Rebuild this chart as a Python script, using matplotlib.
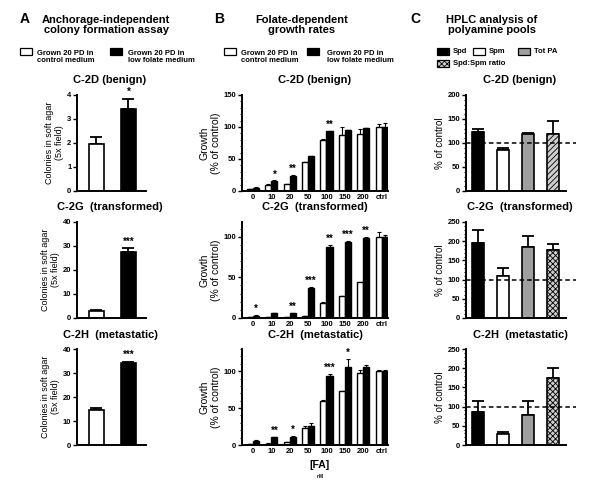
import matplotlib
matplotlib.use("Agg")
import matplotlib.pyplot as plt
from matplotlib.patches import Rectangle
from matplotlib.ticker import MultipleLocator
import numpy as np

plt.rcParams['font.family'] = ['Liberation Sans', 'DejaVu Sans']
plt.rcParams['font.weight'] = 'bold'
plt.rcParams['hatch.linewidth'] = 0.6

# ---- data ----
cell_titles = ['C-2D (benign)', 'C-2G  (transformed)', 'C-2H  (metastatic)']

# A: colonies in soft agar
A_ctrl = [1.95, 3.0, 14.5]
A_ctrl_err = [0.32, 0.5, 0.9]
A_low = [3.4, 27.5, 34.0]
A_low_err = [0.45, 1.5, 0.7]
A_stars = ['*', '***', '***']
A_ymax = [4, 40, 40]
A_step = [1, 10, 10]

# B: growth (% of control) by folate concentration
fa_labels = ['0', '10', '20', '50', '100', '150', '200', 'ctrl']
B_ctrl = [[3, 10, 11, 45, 80, 88, 89, 100],
          [1, 1, 1, 2, 19, 27, 44, 100],
          [1, 2, 4, 23, 60, 73, 97, 100]]
B_ctrl_err = [[0.5, 0.5, 0.5, 0.5, 1, 12, 8, 5],
              [0.3, 0.3, 0.3, 0.3, 1, 0.5, 0.5, 6],
              [0.3, 0.3, 0.5, 3, 0.5, 0.5, 5, 1]]
B_low = [[5, 16, 24, 54, 93, 95, 98, 100],
         [3, 6, 6, 37, 87, 94, 98, 100],
         [5, 11, 11, 26, 94, 105, 105, 100]]
B_low_err = [[0.5, 0.5, 1, 0.5, 1.5, 0.5, 0.5, 6],
             [0.5, 0.5, 0.5, 1, 3, 1, 1, 2],
             [1.5, 0.5, 1, 4, 2, 12, 4, 2]]
B_stars = [['', '*', '**', '', '**', '', '', ''],
           ['*', '', '**', '***', '**', '***', '**', ''],
           ['', '**', '*', '', '***', '*', '', '']]
B_ymax = [150, 118, 130]

# C: HPLC polyamine pools
C_labels = ['Spd', 'Spm', 'Tot PA', 'Spd:Spm ratio']
C_vals = [[122, 85, 118, 119],
          [195, 110, 184, 178],
          [85, 29, 78, 175]]
C_err = [[7, 5, 3, 27],
         [35, 20, 30, 15],
         [30, 6, 37, 25]]
C_ymax = [200, 250, 250]

C_colors = ['black', 'white', '#a0a0a0', '#cfcfcf']

W, H = 600, 496
fig = plt.figure(figsize=(6, 4.96), dpi=100)


def px_axes(x0, y0, x1, y1):
    return fig.add_axes([x0 / W, 1 - y1 / H, (x1 - x0) / W, (y1 - y0) / H])


def style(ax):
    for s in ['top', 'right']:
        ax.spines[s].set_visible(False)
    for s in ['left', 'bottom']:
        ax.spines[s].set_linewidth(1.4)
    ax.tick_params(axis='y', labelsize=5.5, width=1, length=3, pad=1)
    ax.tick_params(axis='y', which='minor', width=0.8, length=1.8)
    ax.tick_params(axis='x', labelsize=5.5, width=0, length=0, pad=2)


def ftext(x, y, s, **kw):
    fig.text(x / W, 1 - y / H, s, **kw)


rows_y = [(95, 191), (222, 318), (349, 445)]
title_y = [80, 207, 335]

# headers
ftext(20, 19, 'A', fontsize=10, va='center')
ftext(214, 19, 'B', fontsize=10, va='center')
ftext(410, 19, 'C', fontsize=10, va='center')
ftext(106, 25, 'Anchorage-independent\ncolony formation assay', fontsize=8,
      ha='center', va='center', linespacing=1.1)
ftext(302, 25, 'Folate-dependent\ngrowth rates', fontsize=8,
      ha='center', va='center', linespacing=1.1)
ftext(492, 25, 'HPLC analysis of\npolyamine pools', fontsize=8,
      ha='center', va='center', linespacing=1.1)


def legend_box(x, y, color, hatch=None):
    r = Rectangle((x / W, 1 - (y + 4) / H), 12 / W, 7 / H, transform=fig.transFigure,
                  facecolor=color, edgecolor='black', linewidth=0.9, hatch=hatch)
    fig.patches.append(r)


leg_txt = ['Grown 20 PD in\ncontrol medium', 'Grown 20 PD in\nlow folate medium']
for bx, tx, col, t in [(20, 37, 'white', leg_txt[0]), (110, 128, 'black', leg_txt[1]),
                       (224, 241, 'white', leg_txt[0]), (307, 327, 'black', leg_txt[1])]:
    legend_box(bx, 51, col)
    ftext(tx, 57, t, fontsize=5.5, va='center', linespacing=1.15)

for (bx, by), col, h, t in zip([(437, 51), (473, 51), (518, 51), (437, 63)], C_colors,
                               [None, None, None, 'xxxxxx'], C_labels):
    legend_box(bx, by, col, h)
    ftext(bx + 16, by + 0.5, t, fontsize=5.5, va='center')

# ---- panel A ----
for i in range(3):
    y0, y1 = rows_y[i]
    ax = px_axes(77, y0, 146, y1)
    style(ax)
    xs = [0, 1]
    vals = [A_ctrl[i], A_low[i]]
    errs = [A_ctrl_err[i], A_low_err[i]]
    ax.bar(xs, vals, width=0.47, color=['white', 'black'], edgecolor='black', linewidth=1.2, zorder=2)
    ax.errorbar(xs, vals, yerr=[[0, 0], errs], fmt='none', ecolor='black', elinewidth=1.3,
                capsize=4, capthick=1.3, zorder=1)
    ax.text(1, A_low[i] + A_low_err[i] + A_ymax[i] * 0.02, A_stars[i], ha='center',
            va='bottom', fontsize=7)
    ax.set_xlim(-0.61, 1.55)
    ax.set_ylim(0, A_ymax[i])
    ax.yaxis.set_major_locator(MultipleLocator(A_step[i]))
    ax.set_xticks([])
    ax.set_ylabel('Colonies in soft agar\n(5x field)', fontsize=6.5, labelpad=2, linespacing=1.2)
    ftext(110, title_y[i], cell_titles[i], fontsize=8, ha='center', va='center')

# ---- panel B ----
xb = np.arange(len(fa_labels))
bw = 0.33
b_top = [95, 222, 349]
for i in range(3):
    ax = px_axes(242, b_top[i], 388, rows_y[i][1])
    style(ax)
    ax.bar(xb - bw / 2, B_ctrl[i], width=bw, color='white', edgecolor='black', linewidth=1.0, zorder=2)
    ax.bar(xb + bw / 2, B_low[i], width=bw, color='black', edgecolor='black', linewidth=1.0, zorder=2)
    ax.errorbar(xb - bw / 2, B_ctrl[i], yerr=[np.zeros(8), B_ctrl_err[i]], fmt='none',
                ecolor='black', elinewidth=0.8, capsize=1.5, capthick=0.8, zorder=1)
    ax.errorbar(xb + bw / 2, B_low[i], yerr=[np.zeros(8), B_low_err[i]], fmt='none',
                ecolor='black', elinewidth=0.8, capsize=1.5, capthick=0.8, zorder=1)
    for j, s in enumerate(B_stars[i]):
        if s:
            ax.text(xb[j] + bw / 2, B_low[i][j] + B_low_err[i][j] + 1.5, s, ha='center',
                    va='bottom', fontsize=7)
    ax.set_xlim(-0.6, 7.35)
    ax.set_ylim(0, B_ymax[i])
    ax.yaxis.set_major_locator(MultipleLocator(50))
    ax.yaxis.set_minor_locator(MultipleLocator(10))
    ax.set_xticks(xb)
    ax.set_xticklabels(fa_labels)
    ax.set_ylabel('Growth\n(% of control)', fontsize=7.5, labelpad=2, linespacing=1.2)
    ftext(315, title_y[i], cell_titles[i], fontsize=8, ha='center', va='center')

ftext(320, 465, '[FA]', fontsize=7.5, ha='center', va='center')
ftext(320, 476, 'nM', fontsize=3.5, ha='center', va='center')

# ---- panel C ----
xc = np.arange(4)
for i in range(3):
    y0, y1 = rows_y[i]
    ax = px_axes(466, y0, 566, y1)
    style(ax)
    bars = ax.bar(xc, C_vals[i], width=0.48, color=C_colors, edgecolor='black', linewidth=1.2, zorder=2)
    bars[3].set_hatch('//////' if i == 0 else 'xxxxxx')
    ax.errorbar(xc, C_vals[i], yerr=[np.zeros(4), C_err[i]], fmt='none', ecolor='black',
                elinewidth=1.3, capsize=4, capthick=1.3, zorder=1)
    ax.plot([-0.48, 3.9], [100, 100], linestyle=(0, (3, 2)), color='black', linewidth=1.1,
            clip_on=False, zorder=3)
    ax.set_xlim(-0.48, 3.52)
    ax.set_ylim(0, C_ymax[i])
    ax.yaxis.set_major_locator(MultipleLocator(50))
    ax.yaxis.set_minor_locator(MultipleLocator(10))
    ax.set_xticks([])
    ax.set_ylabel('% of control', fontsize=7, labelpad=2)
    ftext(520, title_y[i], cell_titles[i], fontsize=8, ha='center', va='center')

fig.savefig('out.png', dpi=100, facecolor='white')
